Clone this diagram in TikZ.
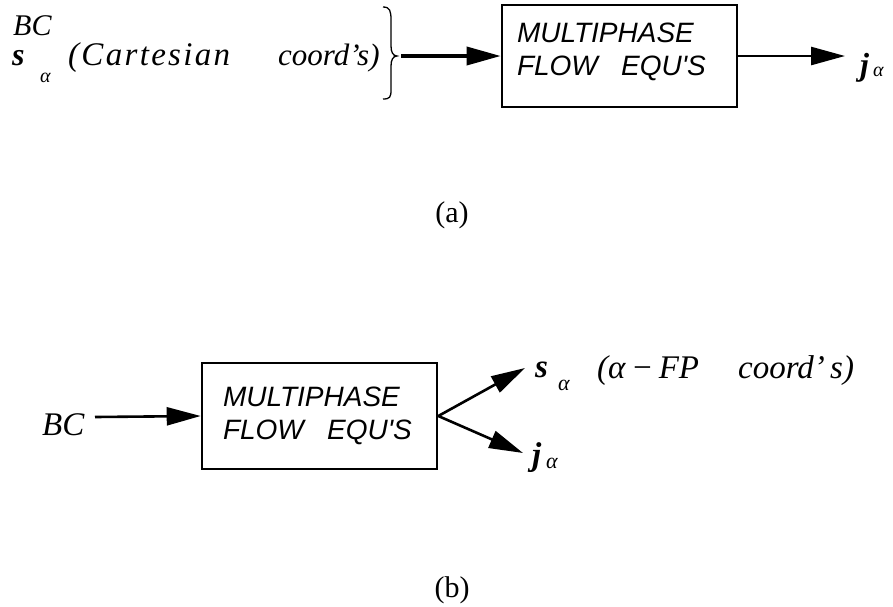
\documentclass[tikz,border=0pt]{standalone}
\usepackage{fontspec}
\setmainfont{Liberation Serif}
\newfontfamily\hsf{Liberation Sans}
\usetikzlibrary{arrows.meta}
\tikzset{
  flowbox/.style={draw,line width=2.6pt,minimum width=235pt,align=left,
    font=\hsf\itshape\fontsize{28}{33}\selectfont},
  conn/.style={line width=2.6pt,-{Triangle[length=34pt,width=18pt]}},
  thickconn/.style={conn,line width=3.6pt},
  txt/.style={anchor=base west,inner sep=0pt},
  ita/.style={txt,font=\itshape\fontsize{31}{31}\selectfont},
  itb/.style={txt,font=\itshape\fontsize{33}{33}\selectfont},
  bolda/.style={txt,font=\bfseries\itshape\fontsize{32}{32}\selectfont},
  boldb/.style={txt,font=\bfseries\itshape\fontsize{33}{33}\selectfont},
  suba/.style={txt,font=\itshape\fontsize{20}{20}\selectfont},
  subb/.style={txt,font=\itshape\fontsize{22}{22}\selectfont},
  caption/.style={font=\fontsize{30}{30}\selectfont}
}
\begin{document}
\begin{tikzpicture}[x=1pt,y=-1pt]
\useasboundingbox (0,0) rectangle (893,606);
% ---------- (a) ----------
\node[ita,font=\itshape\fontsize{30}{30}\selectfont] (bc1) at (13,35) {BC};
\node[bolda] (s1) at (12,65) {s};
\node[suba] (s1a) at (40,82) {α};
\node[ita,font=\itshape\fontsize{33}{33}\selectfont\addfontfeatures{LetterSpace=7}] (cart) at (68,65) {(Cartesian};
\node[ita] (coord1) at (278,65) {coord'};
\node[ita] (s1b) at (357,65) {s)};
\draw[line width=1.3pt] (383,7) .. controls (390,7) and (391,11) .. (391,20) -- (391,46)
  .. controls (391,52) and (393,56) .. (397,56) coordinate (btip)
  .. controls (393,56) and (391,60) .. (391,66) -- (391,90)
  .. controls (391,97) and (390,99) .. (383,99);
\coordinate (a0) at (401,56);
\node[flowbox,minimum height=102pt,text width=205pt,inner xsep=15pt,text depth=46pt] (boxA) at (619.5,56)
  {MULTIPHASE\\FLOW\hspace{14pt} EQU\textquotesingle S};
\draw[thickconn] (a0) -- (boxA.west);
\coordinate (a1) at (845,56);
\draw[conn] (boxA.east) -- (a1);
\node[bolda] (j1) at (860,75) {j};
\node[suba] (j1a) at (873,76) {α};
\node[caption] (capa) at (452,215) {(a)};
% ---------- (b) ----------
\node[itb] (bc2) at (42,435) {BC};
\coordinate (b0) at (95,417);
\node[flowbox,minimum height=106pt,text width=193pt,inner xsep=21pt] (boxB) at (319.5,416)
  {MULTIPHASE\\FLOW\hspace{14pt} EQU\textquotesingle S};
\draw[conn] (b0) -- (boxB.west);
\coordinate (sT) at (525,368);
\coordinate (jT) at (523,453);
\draw[conn] (boxB.east) -- (sT);
\draw[conn] (boxB.east) -- (jT);
\node[boldb] (s2) at (535,377) {s};
\node[subb] (s2a) at (558,390) {α};
\node[itb] (fp) at (597,378) {(α\,−\,FP};
\node[itb] (coord2) at (738,378) {coord'};
\node[itb] (s2b) at (830,378) {s)};
\node[boldb] (j2) at (532,465) {j};
\node[subb] (j2a) at (546,468) {α};
\node[caption] (capb) at (452,590) {(b)};
\end{tikzpicture}
\end{document}
